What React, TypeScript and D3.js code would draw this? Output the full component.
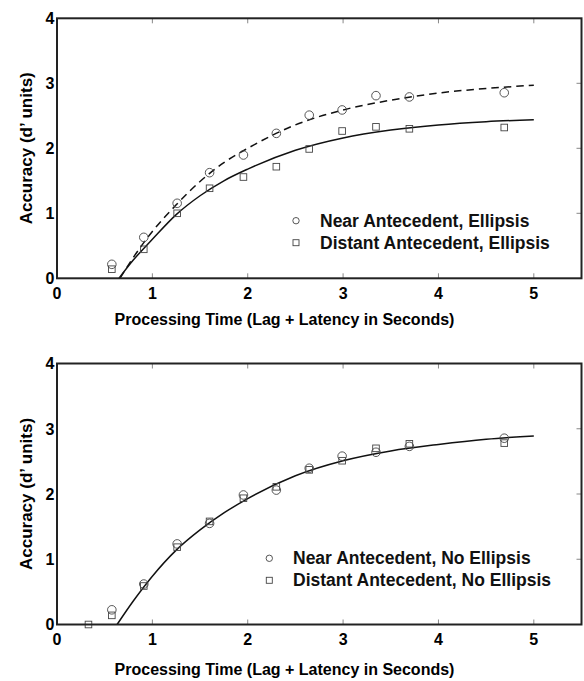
import React, { useEffect, useRef } from 'react';
import * as d3 from 'd3';

// Processing time (s) of each lag, shared by both panels
const lagTimes = [0.575, 0.91, 1.26, 1.6, 1.955, 2.3, 2.645, 2.99, 3.345, 3.695, 4.69];

// Top panel: ellipsis conditions
const nearEllipsis = [0.215, 0.63, 1.154, 1.625, 1.897, 2.23, 2.51, 2.59, 2.81, 2.79, 2.855];
const distantEllipsis = [0.14, 0.446, 1.0, 1.385, 1.558, 1.717, 1.99, 2.266, 2.33, 2.3, 2.32];

// Bottom panel: no-ellipsis conditions (distant has one extra early point)
const nearNoEllipsis = [0.225, 0.62, 1.235, 1.55, 1.985, 2.06, 2.395, 2.58, 2.64, 2.73, 2.855];
const distantNoEllipsisTimes = [0.33, 0.575, 0.91, 1.26, 1.6, 1.955, 2.3, 2.645, 2.99, 3.345, 3.695, 4.69];
const distantNoEllipsis = [0.0, 0.14, 0.59, 1.185, 1.58, 1.935, 2.11, 2.37, 2.51, 2.7, 2.77, 2.78];

// Fitted curves
const fitTimesNearEllipsis = [0.66, 0.8, 1.0, 1.25, 1.5, 1.75, 2.0, 2.5, 3.0, 3.5, 4.0, 4.5, 5.0];
const fitNearEllipsis = [0, 0.32, 0.72, 1.13, 1.49, 1.78, 2.0, 2.36, 2.59, 2.74, 2.85, 2.92, 2.97];
const fitTimesDistantEllipsis = [0.65, 0.8, 1.0, 1.25, 1.5, 1.75, 2.0, 2.5, 3.0, 3.5, 4.0, 4.5, 5.0];
const fitDistantEllipsis = [0, 0.28, 0.6, 0.98, 1.27, 1.5, 1.68, 1.97, 2.16, 2.28, 2.36, 2.41, 2.44];
const fitTimesNoEllipsis = [0.63, 0.8, 1.0, 1.25, 1.5, 1.75, 2.0, 2.5, 3.0, 3.5, 4.0, 4.5, 5.0];
const fitNoEllipsis = [0, 0.36, 0.74, 1.14, 1.45, 1.71, 1.93, 2.28, 2.51, 2.66, 2.76, 2.84, 2.89];

const xTicks = [0, 1, 2, 3, 4, 5];
const yTicks = [0, 1, 2, 3, 4];

const xTitle = 'Processing Time (Lag + Latency in Seconds)';
const yTitle = 'Accuracy (d\u2019 units)';

const FONT = '"Liberation Sans", Arial, Helvetica, sans-serif';

export default function App() {
  const ref = useRef(null);

  useEffect(() => {
    const width = 584;
    const height = 681;

    d3.select(ref.current).selectAll('*').remove();

    const svg = d3.select(ref.current)
      .append('svg')
      .attr('width', width)
      .attr('height', height)
      .attr('viewBox', `0 0 ${width} ${height}`)
      .style('display', 'block')
      .style('font-family', FONT);

    svg.append('rect').attr('width', width).attr('height', height).attr('fill', '#fff');

    const panels = [
      {
        top: 18.3, bottom: 278.3, titleY: 324.5, legendY: 220.7,
        legendX: 296, textX: 320,
        series: [
          { x: lagTimes, y: nearEllipsis, marker: 'circle' },
          { x: lagTimes, y: distantEllipsis, marker: 'square' },
        ],
        fits: [
          { x: fitTimesNearEllipsis, y: fitNearEllipsis, dash: '7.5,5' },
          { x: fitTimesDistantEllipsis, y: fitDistantEllipsis, dash: null },
        ],
        legend: ['Near Antecedent, Ellipsis', 'Distant Antecedent, Ellipsis'],
      },
      {
        top: 363.5, bottom: 624.5, titleY: 675, legendY: 558.3,
        legendX: 269.3, textX: 293,
        series: [
          { x: lagTimes, y: nearNoEllipsis, marker: 'circle' },
          { x: distantNoEllipsisTimes, y: distantNoEllipsis, marker: 'square' },
        ],
        fits: [
          { x: fitTimesNoEllipsis, y: fitNoEllipsis, dash: null },
        ],
        legend: ['Near Antecedent, No Ellipsis', 'Distant Antecedent, No Ellipsis'],
      },
    ];

    const left = 57;
    const right = 581.5;

    panels.forEach(p => {
      const x = d3.scaleLinear().domain([0, 5.5]).range([left, right]);
      const y = d3.scaleLinear().domain([0, 4]).range([p.bottom, p.top]);
      const g = svg.append('g');

      // inward ticks on bottom, top and right
      const tickX = xTicks.filter(t => t > 0);
      g.selectAll('line.tb').data(tickX).enter().append('line')
        .attr('x1', d => x(d)).attr('x2', d => x(d))
        .attr('y1', p.bottom).attr('y2', p.bottom - 5)
        .attr('stroke', '#888').attr('stroke-width', 1);
      g.selectAll('line.tt').data(tickX).enter().append('line')
        .attr('x1', d => x(d)).attr('x2', d => x(d))
        .attr('y1', p.top).attr('y2', p.top + 5)
        .attr('stroke', '#888').attr('stroke-width', 1);
      g.selectAll('line.tr').data(yTicks.slice(1, 4)).enter().append('line')
        .attr('x1', right).attr('x2', right - 5)
        .attr('y1', d => y(d)).attr('y2', d => y(d))
        .attr('stroke', '#888').attr('stroke-width', 1);

      // fitted curves
      p.fits.forEach(f => {
        const line = d3.line<number>()
          .x((_, i) => x(f.x[i]))
          .y(d => y(d))
          .curve(d3.curveMonotoneX);
        const path = g.append('path')
          .attr('d', line(f.y))
          .attr('fill', 'none')
          .attr('stroke', '#111')
          .attr('stroke-width', 1.5);
        if (f.dash) path.attr('stroke-dasharray', f.dash);
      });

      // data markers
      p.series.forEach(s => {
        if (s.marker === 'circle') {
          g.selectAll(null).data(s.y).enter().append('circle')
            .attr('cx', (_, i) => x(s.x[i]))
            .attr('cy', d => y(d))
            .attr('r', 4.3)
            .attr('fill', 'none')
            .attr('stroke', '#444')
            .attr('stroke-width', 0.9);
        } else {
          g.selectAll(null).data(s.y).enter().append('rect')
            .attr('x', (_, i) => x(s.x[i]) - 3.3)
            .attr('y', d => y(d) - 3.3)
            .attr('width', 6.6)
            .attr('height', 6.6)
            .attr('fill', 'none')
            .attr('stroke', '#444')
            .attr('stroke-width', 0.9);
        }
      });

      // frame
      g.append('rect')
        .attr('x', left).attr('y', p.top)
        .attr('width', right - left).attr('height', p.bottom - p.top)
        .attr('fill', 'none').attr('stroke', '#222').attr('stroke-width', 2);

      // tick labels
      g.selectAll('text.xt').data(xTicks).enter().append('text')
        .attr('x', d => x(d)).attr('y', p.bottom + 20.5)
        .attr('text-anchor', 'middle')
        .attr('font-size', 16).attr('font-weight', 'bold')
        .text(d => d);
      g.selectAll('text.yt').data(yTicks).enter().append('text')
        .attr('x', left - 2.5).attr('y', d => y(d)).attr('dy', '0.36em')
        .attr('text-anchor', 'end')
        .attr('font-size', 16).attr('font-weight', 'bold')
        .text(d => d);

      // axis titles
      g.append('text')
        .attr('x', 284.5).attr('y', p.titleY)
        .attr('text-anchor', 'middle')
        .attr('font-size', 16).attr('font-weight', 'bold')
        .text(xTitle);
      g.append('text')
        .attr('transform', `translate(32,${(p.top + p.bottom) / 2}) rotate(-90)`)
        .attr('text-anchor', 'middle')
        .attr('font-size', 17).attr('font-weight', 'bold')
        .text(yTitle);

      // legend
      p.legend.forEach((label, i) => {
        const ly = p.legendY + i * 22;
        if (i === 0) {
          g.append('circle').attr('cx', p.legendX).attr('cy', ly).attr('r', 3.2)
            .attr('fill', 'none').attr('stroke', '#444').attr('stroke-width', 0.9);
        } else {
          g.append('rect').attr('x', p.legendX - 3).attr('y', ly - 3)
            .attr('width', 6).attr('height', 6)
            .attr('fill', 'none').attr('stroke', '#444').attr('stroke-width', 0.9);
        }
        g.append('text')
          .attr('x', p.textX).attr('y', ly + 5.8)
          .attr('font-size', 17.5).attr('font-weight', 'bold')
          .attr('fill', '#111')
          .text(label);
      });
    });
  }, []);

  return (
    <div ref={ref} style={{ position: 'absolute', left: 0, top: 0 }} />
  );
}
